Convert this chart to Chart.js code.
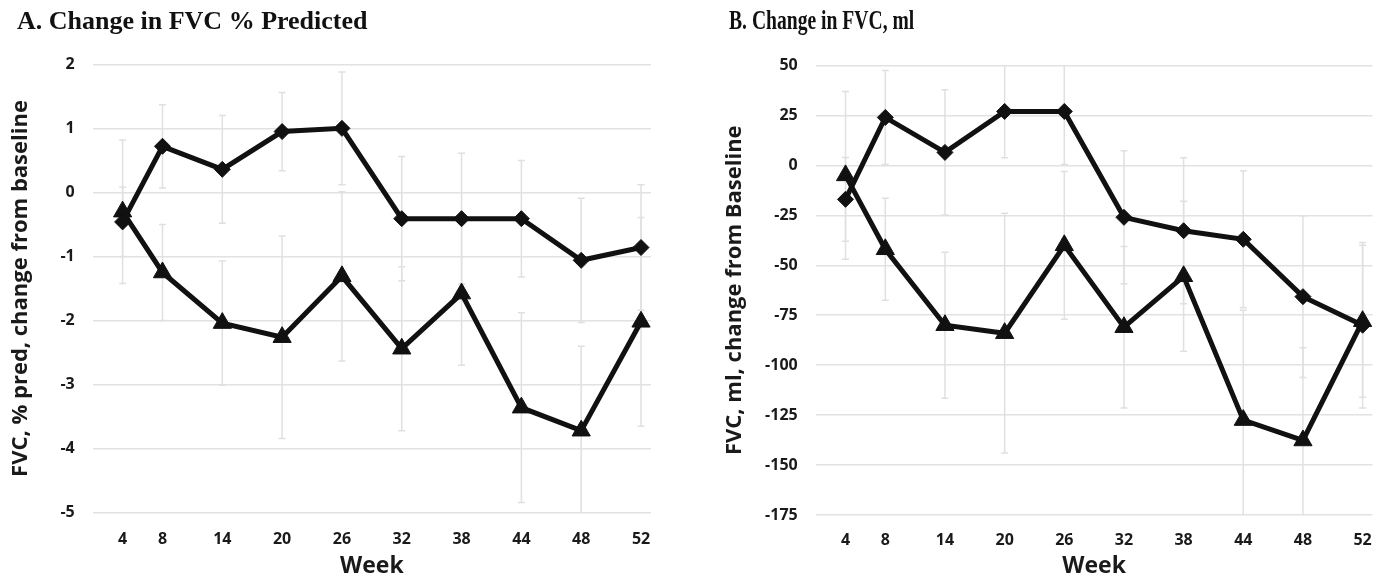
<!DOCTYPE html>
<html><head><meta charset="utf-8">
<script src="https://cdn.jsdelivr.net/npm/chart.js@4.4.1/dist/chart.umd.min.js"></script>
<style>
html,body{margin:0;padding:0;background:#fff;}
body{width:1388px;height:580px;position:relative;overflow:hidden;}
.panel{position:absolute;top:0;height:580px;}
.ttl{position:absolute;font-family:'Liberation Serif','Times New Roman',serif;font-weight:bold;color:#111;white-space:nowrap;transform-origin:0 0;}
</style></head><body>
<div class="panel" style="left:0;width:694px"><canvas id="cA" width="694" height="580"></canvas></div>
<div class="panel" style="left:694px;width:694px"><canvas id="cB" width="694" height="580"></canvas></div>
<div class="ttl" style="left:17px;top:7.5px;font-size:26px;line-height:26px">A. Change in FVC % Predicted</div>
<div class="ttl" style="left:729px;top:7px;font-size:26.5px;line-height:26.5px;transform:scaleX(0.74)">B. Change in FVC, ml</div>
<script>
// Week tick labels and their positions on the x axis (axis units)
const weekLabels = [4, 8, 14, 20, 26, 32, 38, 44, 48, 52];
const weekAxisPos = [4, 8, 14, 20, 26, 32, 38, 44, 50, 56];

// Panel A: change in FVC % predicted
const pctDiamond = [-0.46, 0.72, 0.36, 0.95, 1.00, -0.41, -0.41, -0.41, -1.06, -0.86];
const pctDiamondErr = [0.54, 0.65, 0.84, 0.61, 0.88, 0.97, 1.02, 0.91, 0.97, 0.98];
const pctTriangle = [-0.30, -1.25, -2.04, -2.26, -1.31, -2.44, -1.58, -3.36, -3.72, -2.02];
const pctTriangleErr = [1.12, 0.75, 0.97, 1.58, 1.32, 1.28, 1.12, 1.48, 1.32, 1.63];

// Panel B: change in FVC, ml
const mlDiamond = [-17, 24, 6.5, 27, 27, -26, -32.7, -37, -65.7, -80];
const mlDiamondErr = [21, 23.5, 31.3, 23.2, 26.5, 33.3, 36.5, 34.3, 40.5, 41.4];
const mlTriangle = [-5, -42, -80, -84, -40, -81, -55.5, -127.5, -137.7, -78];
const mlTriangleErr = [42, 25.5, 36.5, 60, 37, 40.4, 37.5, 55, 46.4, 38];

Chart.defaults.font.family = "'Open Sans', sans-serif";
Chart.defaults.color = '#1a1a1a';

const errorBarPlugin = {
  id: 'errorBars',
  beforeDatasetsDraw(chart) {
    const {ctx, chartArea, scales} = chart;
    const x = scales.x, y = scales.y;
    ctx.save();
    ctx.beginPath();
    ctx.rect(chartArea.left, chartArea.top, chartArea.right - chartArea.left, chartArea.bottom - chartArea.top);
    ctx.clip();
    ctx.strokeStyle = '#e0e0e0';
    ctx.lineWidth = 1.5;
    chart.data.datasets.forEach(ds => {
      ds.data.forEach((pt, i) => {
        const e = ds.errors[i];
        const px = x.getPixelForValue(pt.x);
        const yt = y.getPixelForValue(pt.y + e);
        const yb = y.getPixelForValue(pt.y - e);
        ctx.beginPath();
        ctx.moveTo(px, yt); ctx.lineTo(px, yb);
        ctx.moveTo(px - 3.5, yt); ctx.lineTo(px + 3.5, yt);
        ctx.moveTo(px - 3.5, yb); ctx.lineTo(px + 3.5, yb);
        ctx.stroke();
      });
    });
    ctx.restore();
  }
};

function pts(vals) { return vals.map((v, i) => ({x: weekAxisPos[i], y: v})); }

function makeChart(id, o) {
  return new Chart(document.getElementById(id), {
    type: 'line',
    data: {
      datasets: [
        {label: 'Diamond', data: pts(o.dia), errors: o.diaErr, borderColor: '#111', backgroundColor: '#111',
         borderWidth: 5, pointStyle: 'rectRot', pointRadius: 8, pointBorderWidth: 1, pointBackgroundColor: '#111', pointBorderColor: '#111', tension: 0},
        {label: 'Triangle', data: pts(o.tri), errors: o.triErr, borderColor: '#111', backgroundColor: '#111',
         borderWidth: 5, pointStyle: 'triangle', pointRadius: 10.5, pointBorderWidth: 1, pointBackgroundColor: '#111', pointBorderColor: '#111', tension: 0}
      ]
    },
    options: {
      responsive: false,
      animation: false,
      layout: {padding: {left: 0, right: o.padRight, top: o.padTop, bottom: 0}},
      plugins: {legend: {display: false}, tooltip: {enabled: false}, title: {display: false}},
      scales: {
        x: {
          type: 'linear', min: 1, max: 57,
          afterBuildTicks: s => { s.ticks = weekAxisPos.map(v => ({value: v})); },
          afterFit: s => { s.height = o.xHeight; },
          grid: {display: false, drawTicks: false},
          border: {display: false},
          ticks: {padding: o.xTickPad, font: {size: 16, weight: 'bold'}, color: '#1a1a1a',
                  callback: v => { const i = weekAxisPos.indexOf(v); return i >= 0 ? String(weekLabels[i]) : ''; }},
          title: {display: true, text: 'Week', font: {size: 23, weight: 'bold'}, color: '#1a1a1a', padding: {top: 0, bottom: 0}}
        },
        y: {
          min: o.yMin, max: o.yMax,
          ticks: {stepSize: o.step, padding: 18, font: {size: 16, weight: 'bold'}, color: '#1a1a1a'},
          afterFit: s => { s.width = o.yWidth; },
          grid: {color: '#e2e2e2', lineWidth: 1.5, drawTicks: false},
          border: {display: false},
          title: {display: true, text: o.yTitle, font: {size: 22, weight: 'bold'}, color: '#1a1a1a', padding: {top: o.yTitlePad, bottom: 0}}
        }
      }
    },
    plugins: [errorBarPlugin]
  });
}

makeChart('cA', {dia: pctDiamond, diaErr: pctDiamondErr, tri: pctTriangle, triErr: pctTriangleErr,
  yMin: -5, yMax: 2, step: 1, yTitle: 'FVC, % pred, change from baseline',
  padRight: 43, padTop: 64.3, xHeight: 67.3, yWidth: 92.7, yTitlePad: 7.3, xTickPad: 17});
makeChart('cB', {dia: mlDiamond, diaErr: mlDiamondErr, tri: mlTriangle, triErr: mlTriangleErr,
  yMin: -175, yMax: 50, step: 25, yTitle: 'FVC, ml, change from Baseline',
  padRight: 14, padTop: 65.5, xHeight: 65, yWidth: 121.7, yTitlePad: 27.8, xTickPad: 16});
</script>
</body></html>
